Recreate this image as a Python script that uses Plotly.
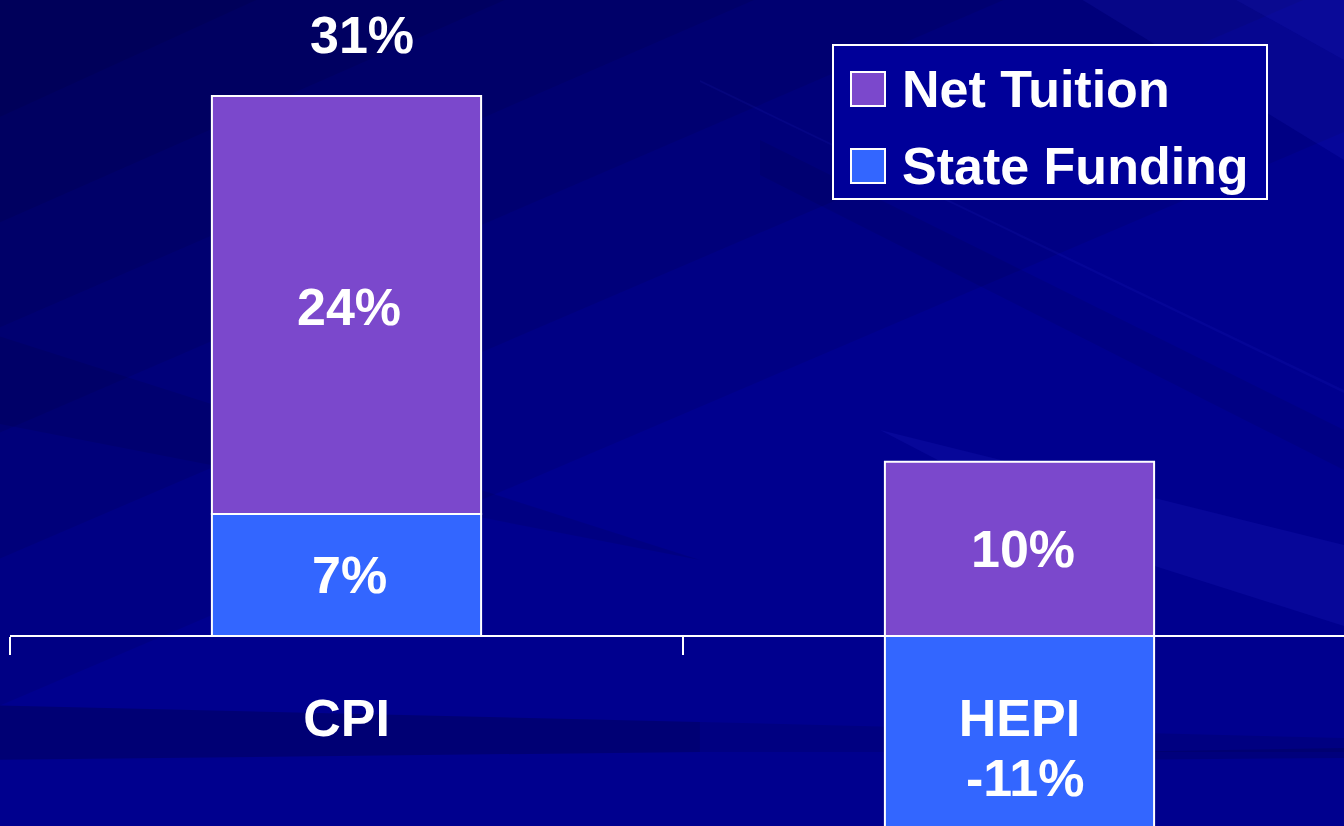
import plotly.graph_objects as go

# ---- data ----
categories = ["CPI", "HEPI"]
state_funding = [7, -11]
net_tuition = [24, 10]
totals = [31, None]
series_names = ["Net Tuition", "State Funding"]

# ---- style ----
W, H = 1344, 826
ML, MR, MT, MB = 10, 0, 0, 0
PURPLE = "#7B48CC"
BLUE = "#3366FF"
BG = "#00008E"
FONT = "Liberation Sans, Arial, sans-serif"
FS = 52

# pixel scale: 31% spans 540 px, zero line at 636 px
px_per_unit = 540 / 31
ymax = 636 / px_per_unit
ymin = -(H - 636) / px_per_unit
xmin = -0.5
xmax = -0.5 + (W - ML - MR) / 673


def px(x):
    return (x - ML) / (W - ML - MR)


def py(y):
    return 1 - (y - MT) / (H - MT - MB)


fig = go.Figure()
fig.add_trace(go.Bar(
    x=categories, y=state_funding, name=series_names[1],
    marker=dict(color=BLUE, line=dict(color="white", width=2)),
    width=0.4, showlegend=False, hoverinfo="x+y+name",
))
fig.add_trace(go.Bar(
    x=categories, y=net_tuition, name=series_names[0],
    marker=dict(color=PURPLE, line=dict(color="white", width=2)),
    width=0.4, showlegend=False, hoverinfo="x+y+name",
))

annotations = []
lab_font = dict(family=FONT, size=FS, color="white")
# segment labels
for i, c in enumerate(categories):
    sf = state_funding[i]
    nt = net_tuition[i]
    if sf >= 0:
        annotations.append(dict(x=c, y=sf / 2, text=f"<b>{sf}%</b>", showarrow=False,
                                font=lab_font, xshift=3))
        annotations.append(dict(x=c, y=sf + nt / 2, text=f"<b>{nt}%</b>", showarrow=False,
                                font=lab_font, xshift=2, yshift=-2))
    else:
        annotations.append(dict(x=c, y=nt / 2, text=f"<b>{nt}%</b>", showarrow=False,
                                font=lab_font, xshift=3))
        # segment runs past the bottom edge: anchor at the visible end
        annotations.append(dict(x=c, y=max(sf, ymin), text=f"<b>{sf}%</b>", showarrow=False,
                                font=lab_font, yshift=48, xshift=6))
    if totals[i] is not None:
        annotations.append(dict(x=c, y=totals[i], text=f"<b>{totals[i]}%</b>", showarrow=False,
                                font=lab_font, yshift=61, xshift=15))

legend_entries = [(series_names[0], PURPLE, 89), (series_names[1], BLUE, 166)]
shapes = []


# background streaks (decorative)
def poly(points, color, opacity):
    d = "M " + " L ".join(f"{px(x):.4f},{py(y):.4f}" for x, y in points) + " Z"
    return dict(type="path", path=d, xref="paper", yref="paper", fillcolor=color,
                opacity=opacity, line=dict(width=0), layer="below")


for a in [300, 550, 800, 1050, 1350, 1700]:
    shapes.append(poly([(-20, -20), (a, -20), (-20, 0.42 * a)], "#000000", 0.07))
shapes += [
    poly([(-20, 330), (700, 560), (-20, 420)], "#000000", 0.08),
    poly([(-20, 705), (700, 722), (700, 752), (-20, 760)], "#000000", 0.18),
    poly([(700, 722), (1344, 738), (1344, 752), (700, 752)], "#000000", 0.09),
    poly([(1050, -20), (1344, -20), (1344, 160)], "#3a3aff", 0.10),
    poly([(1200, -20), (1344, -20), (1344, 60)], "#3a3aff", 0.08),
    poly([(880, 430), (1344, 545), (1344, 626), (1120, 555)], "#4040ff", 0.10),
    poly([(760, 140), (1344, 430), (1344, 470), (760, 175)], "#000000", 0.07),
    poly([(700, 80), (1344, 390), (1344, 393), (700, 82)], "#4040ff", 0.08),
    poly([(1100, 752), (1344, 748), (1344, 758), (1100, 760)], "#000000", 0.12),
]

# legend box (large swatches, drawn manually)
shapes.append(dict(type="rect", xref="paper", yref="paper",
                   x0=px(833), x1=px(1267), y0=py(199), y1=py(45),
                   fillcolor="#000099", line=dict(color="white", width=2)))
for name, col, yc in legend_entries:
    shapes.append(dict(type="rect", xref="paper", yref="paper",
                       x0=px(851), x1=px(885), y0=py(yc + 17), y1=py(yc - 17),
                       fillcolor=col, line=dict(color="white", width=2)))
    annotations.append(dict(xref="paper", yref="paper", x=px(900), y=py(yc),
                            xanchor="left", yanchor="middle", showarrow=False,
                            text=f"<b>{name}</b>", font=dict(family=FONT, size=FS, color="white")))

fig.update_layout(
    width=W, height=H,
    margin=dict(l=ML, r=MR, t=MT, b=MB),
    barmode="relative",
    paper_bgcolor=BG, plot_bgcolor="rgba(0,0,0,0)",
    showlegend=False,
    shapes=shapes,
    annotations=annotations,
    font=dict(family=FONT, color="white"),
    xaxis=dict(
        type="category", range=[xmin, xmax],
        anchor="free", position=(0 - ymin) / (ymax - ymin),
        showline=True, linecolor="white", linewidth=2,
        ticks="outside", ticklen=18, tickwidth=2, tickcolor="white",
        tickson="boundaries", showgrid=False, zeroline=False,
        tickfont=dict(family=FONT, size=FS, color="white"),
        ticklabelstandoff=37,
        tickvals=categories, ticktext=[f"<b>{c}</b>" for c in categories],
    ),
    yaxis=dict(range=[ymin, ymax], visible=False, showgrid=False, zeroline=False),
)

fig.write_html("out.html", config={"displayModeBar": False},
               post_script="document.body.style.margin='0px';")
